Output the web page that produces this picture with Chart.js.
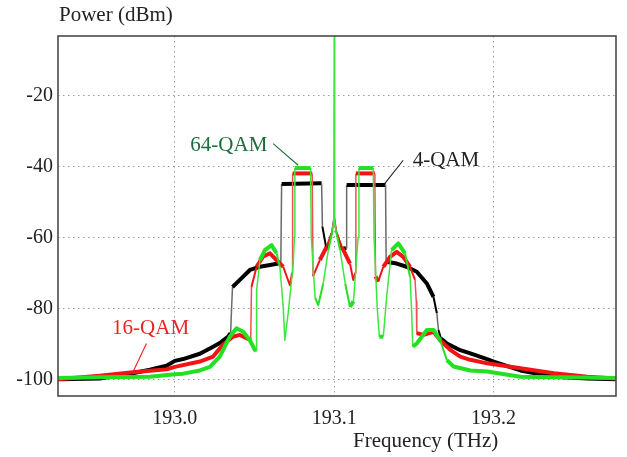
<!DOCTYPE html>
<html>
<head>
<meta charset="utf-8">
<script src="https://cdn.jsdelivr.net/npm/chart.js@4.4.0/dist/chart.umd.min.js"></script>
<style>
  html, body { margin: 0; padding: 0; background: #fff; }
  #wrap { width: 627px; height: 457px; }
</style>
</head>
<body>
<div id="wrap"><canvas id="spectrum"></canvas></div>
<script>
// optical spectra of the three modulation formats (THz, dBm)
const freq4qam = [
  192.9267, 192.9529, 192.9736, 192.9843, 192.9948, 193.0000, 193.0052, 193.0157,
  193.0240, 193.0282, 193.0333, 193.0350, 193.0356, 193.0362, 193.0408, 193.0471,
  193.0534, 193.0597, 193.0649, 193.0665, 193.0670, 193.0921, 193.0926, 193.0952,
  193.0984, 193.1000, 193.1016, 193.1048, 193.1074, 193.1078, 193.1322, 193.1326,
  193.1392, 193.1455, 193.1518, 193.1581, 193.1623, 193.1644, 193.1654, 193.1670,
  193.1707, 193.1791, 193.1854, 193.1959, 193.2001, 193.2168, 193.2378, 193.2588,
  193.2768
];
const power4qam = [
  -100, -99.8, -98.3, -97.3, -96.2, -94.8, -94.3, -92.8,
  -90.8, -89.8, -88.0, -87.0, -80.0, -74.0, -72.0, -69.2,
  -68.3, -67.8, -67.4, -67.0, -45.0, -44.8, -57.0, -63.5,
  -58.8, -54.0, -58.8, -63.5, -63.0, -45.3, -45.3, -66.9,
  -67.4, -68.3, -69.7, -73.0, -76.8, -81.4, -86.1, -88.5,
  -89.9, -91.8, -92.7, -94.3, -95.0, -97.5, -99.3, -99.8,
  -100
];

const freq16qam = [
  192.9267, 192.9360, 192.9529, 192.9736, 192.9843, 192.9948, 193.0000, 193.0157,
  193.0240, 193.0301, 193.0364, 193.0408, 193.0450, 193.0476, 193.0481, 193.0513,
  193.0552, 193.0597, 193.0638, 193.0680, 193.0722, 193.0736, 193.0739, 193.0862,
  193.0867, 193.0910, 193.0952, 193.0984, 193.1000, 193.1016, 193.1048, 193.1099,
  193.1119, 193.1132, 193.1136, 193.1255, 193.1259, 193.1276, 193.1308, 193.1350,
  193.1392, 193.1433, 193.1476, 193.1507, 193.1515, 193.1518, 193.1560, 193.1623,
  193.1665, 193.1728, 193.1791, 193.1854, 193.1959, 193.2168, 193.2378, 193.2588,
  193.2768
];
const power16qam = [
  -100, -99.6, -99.0, -98.0, -97.6, -97.2, -96.5, -95.0,
  -93.6, -90.3, -88.0, -87.5, -88.4, -89.0, -74.0, -68.3,
  -65.5, -64.5, -66.4, -68.3, -73.5, -70.0, -42.0, -42.0,
  -71.0, -66.4, -62.7, -58.9, -54.5, -58.9, -62.7, -67.4,
  -72.0, -70.0, -42.0, -42.0, -71.0, -72.5, -68.3, -65.5,
  -64.1, -65.5, -68.3, -72.0, -78.0, -87.0, -87.5, -86.6,
  -89.0, -91.7, -93.6, -94.5, -95.5, -96.9, -98.3, -99.3,
  -99.8
];

const freq64qam = [
  192.9267, 192.9529, 192.9843, 193.0000, 193.0052, 193.0157, 193.0220, 193.0282,
  193.0345, 193.0387, 193.0429, 193.0471, 193.0502, 193.0510, 193.0513, 193.0534,
  193.0565, 193.0607, 193.0638, 193.0659, 193.0680, 193.0690, 193.0711, 193.0743,
  193.0750, 193.0753, 193.0852, 193.0856, 193.0880, 193.0900, 193.0931, 193.0963,
  193.0990, 193.0997, 193.1000, 193.1003, 193.1010, 193.1037, 193.1069, 193.1099,
  193.1121, 193.1150, 193.1155, 193.1245, 193.1250, 193.1270, 193.1283, 193.1308,
  193.1329, 193.1360, 193.1402, 193.1444, 193.1476, 193.1486, 193.1493, 193.1518,
  193.1581, 193.1623, 193.1665, 193.1707, 193.1749, 193.1854, 193.1959, 193.2168,
  193.2768
];
const power64qam = [
  -99.6, -99.4, -99.3, -98.6, -98.4, -97.5, -96.5, -93.6,
  -88.0, -85.6, -86.6, -89.0, -91.7, -92.0, -75.0, -66.4,
  -63.6, -62.2, -64.5, -68.3, -79.6, -89.0, -81.4, -67.4,
  -60.0, -40.5, -40.5, -60.0, -77.0, -79.1, -73.0, -63.6,
  -58.0, -56.0, 0, -56.0, -58.0, -63.6, -73.0, -79.6,
  -78.0, -60.0, -40.5, -40.5, -60.0, -80.0, -88.0, -88.0,
  -76.8, -63.6, -61.7, -64.5, -71.1, -81.4, -90.8, -89.9,
  -86.1, -86.1, -89.0, -94.6, -96.4, -97.5, -97.8, -99.3,
  -99.6
];

const xTicks = [193.0, 193.1, 193.2];
const yTicks = [-20, -40, -60, -80, -100];

// trace labels with leader lines, in data units
const labels = [
  { text: '64-QAM', color: '#1a6e3c', at: [193.0339, -34.1], from: [193.0617, -33.6], to: [193.0774, -39.7] },
  { text: '4-QAM',  color: '#222222', at: [193.1701, -38.3], from: [193.1433, -38.3], to: [193.1318, -44.8] },
  { text: '16-QAM', color: '#ee2222', at: [192.9848, -85.6], from: [192.9822, -89.9], to: [192.9738, -97.9] }
];

const SERIF = '"Liberation Serif", "Times New Roman", serif';

function toPoints(xs, ys) {
  return xs.map((x, i) => ({ x: x, y: ys[i] }));
}

function slope(ctx) {
  const dx = Math.abs(ctx.p1.x - ctx.p0.x);
  const dy = Math.abs(ctx.p1.y - ctx.p0.y);
  return dy / Math.max(dx, 0.01);
}

// noisy flat parts are drawn thick, the steep filter edges thin
function trace(label, xs, ys, color, thin, order) {
  return {
    label: label,
    data: toPoints(xs, ys),
    borderColor: color,
    borderWidth: 4,
    pointRadius: 0,
    tension: 0,
    order: order,
    borderJoinStyle: 'round',
    segment: {
      borderWidth: ctx => {
        const s = slope(ctx);
        return s > 6 ? 1.5 : (s > 2.2 ? 2 : 4);
      },
      borderColor: ctx => slope(ctx) > 6 ? thin : color
    }
  };
}

const framePlugin = {
  id: 'frame',
  afterDatasetsDraw(chart) {
    const { ctx, chartArea: a, scales } = chart;
    ctx.save();
    ctx.strokeStyle = '#4a4a4a';
    ctx.lineWidth = 1.6;
    ctx.strokeRect(a.left, a.top, a.right - a.left, a.bottom - a.top);

    ctx.font = '21px ' + SERIF;
    ctx.textBaseline = 'middle';
    labels.forEach(l => {
      ctx.fillStyle = l.color;
      ctx.textAlign = 'center';
      ctx.fillText(l.text, scales.x.getPixelForValue(l.at[0]), scales.y.getPixelForValue(l.at[1]));
      ctx.strokeStyle = l.color;
      ctx.lineWidth = 1.1;
      ctx.beginPath();
      ctx.moveTo(scales.x.getPixelForValue(l.from[0]), scales.y.getPixelForValue(l.from[1]));
      ctx.lineTo(scales.x.getPixelForValue(l.to[0]), scales.y.getPixelForValue(l.to[1]));
      ctx.stroke();
    });

    // axis titles
    ctx.fillStyle = '#222';
    ctx.textAlign = 'left';
    ctx.fillText('Power (dBm)', a.left + 1, 15);
    ctx.textAlign = 'center';
    ctx.fillText('Frequency (THz)', scales.x.getPixelForValue(193.1574), 441.5);
    ctx.restore();
  }
};

new Chart(document.getElementById('spectrum'), {
  type: 'line',
  data: {
    datasets: [
      trace('64-QAM', freq64qam, power64qam, '#22e022', '#3ce83c', 1),
      trace('16-QAM', freq16qam, power16qam, '#f21414', '#f05050', 2),
      trace('4-QAM', freq4qam, power4qam, '#000000', '#6a6a6a', 3)
    ]
  },
  options: {
    responsive: true,
    maintainAspectRatio: false,
    animation: false,
    layout: { padding: { top: 36, right: 11, left: 0, bottom: 0 } },
    plugins: {
      legend: { display: false },
      tooltip: { enabled: false }
    },
    scales: {
      x: {
        type: 'linear',
        min: 192.9267,
        max: 193.2768,
        afterFit: s => { s.height = 61; },
        afterBuildTicks: s => { s.ticks = xTicks.map(v => ({ value: v })); },
        ticks: {
          color: '#222',
          padding: 11,
          maxRotation: 0,
          font: { family: SERIF, size: 20 },
          callback: v => v.toFixed(1)
        },
        grid: { color: '#9a9a9a', lineWidth: 1, drawTicks: false },
        border: { display: false, dash: [1.5, 3.5] }
      },
      y: {
        min: -104.7,
        max: -3.3,
        afterFit: s => { s.width = 58; },
        afterBuildTicks: s => { s.ticks = yTicks.map(v => ({ value: v })); },
        ticks: {
          color: '#222',
          padding: 5,
          font: { family: SERIF, size: 20 }
        },
        grid: { color: '#9a9a9a', lineWidth: 1, drawTicks: false },
        border: { display: false, dash: [1.5, 3.5] }
      }
    }
  },
  plugins: [framePlugin]
});
</script>
</body>
</html>
